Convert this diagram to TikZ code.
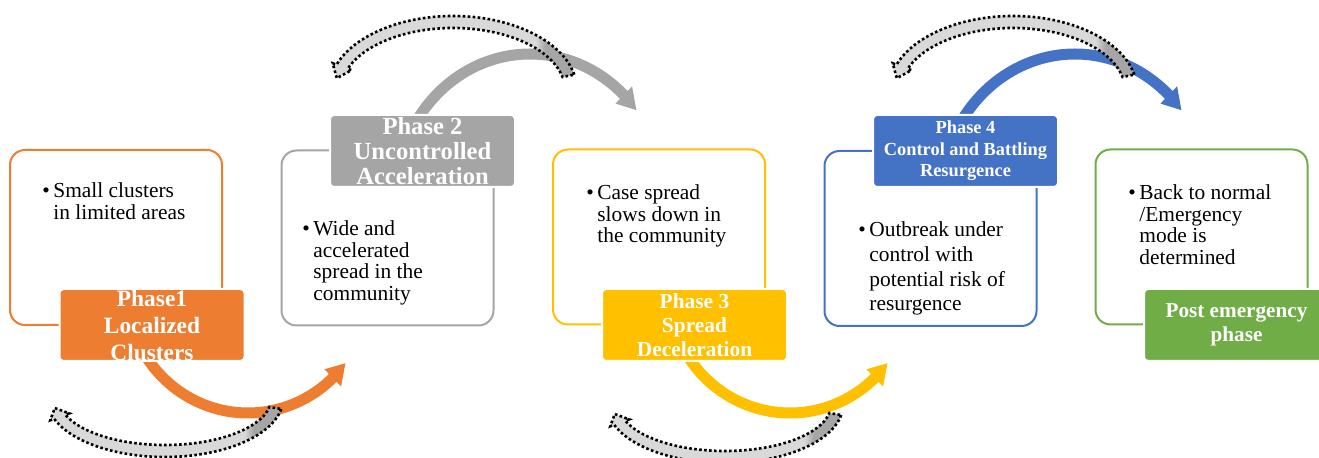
\documentclass[tikz,border=0pt]{standalone}
\usepackage{fontspec}
\setmainfont{Liberation Serif}
\usetikzlibrary{positioning}
\definecolor{phaseorange}{HTML}{ED7D31}
\definecolor{phasegray}{HTML}{A5A5A5}
\definecolor{phaseyellow}{HTML}{FFC000}
\definecolor{phaseblue}{HTML}{4472C4}
\definecolor{phasegreen}{HTML}{70AD47}
\definecolor{dotlight}{HTML}{D9D9D9}
\definecolor{dotdark}{HTML}{A6A6A6}
\pgfdeclarehorizontalshading{dotshade}{100bp}{color(0bp)=(dotlight); color(67bp)=(dotlight); color(69bp)=(dotdark); color(100bp)=(dotdark)}
\newcommand{\bul}{\makebox[5.5pt][l]{\textbullet}}
% #1 style, #2 centre, #3/#4 radii, #5 tail, #6 neck, #7 tip angle, #8 half width, #9 head half width
\newcommand{\bentarrow}[9]{%
  \pgfmathsetmacro{\rxo}{#3+#8}\pgfmathsetmacro{\ryo}{#4+#8}%
  \pgfmathsetmacro{\rxi}{#3-#8}\pgfmathsetmacro{\ryi}{#4-#8}%
  \pgfmathsetmacro{\rxb}{#3+#9}\pgfmathsetmacro{\ryb}{#4+#9}%
  \pgfmathsetmacro{\rxc}{#3-#9}\pgfmathsetmacro{\ryc}{#4-#9}%
  \path[#1, shift={#2}]
    ({\rxo*cos(#5)},{\ryo*sin(#5)}) arc[start angle=#5, end angle=#6, x radius=\rxo, y radius=\ryo]
    -- ({\rxb*cos(#6)},{\ryb*sin(#6)})
    -- ({#3*cos(#7)},{#4*sin(#7)})
    -- ({\rxc*cos(#6)},{\ryc*sin(#6)})
    -- ({\rxi*cos(#6)},{\ryi*sin(#6)})
    arc[start angle=#6, end angle=#5, x radius=\rxi, y radius=\ryi]
    -- cycle;}

\begin{document}
\begin{tikzpicture}[
    x=0.5pt, y=-0.5pt,
    phasebox/.style={draw=#1, line width=1pt, rounded corners=7.5pt,
        minimum width=106pt, minimum height=87.5pt, inner sep=0pt},
    phaselabel/.style={fill=#1, draw=white, line width=1pt, rounded corners=2pt,
        text=white, align=center, inner sep=0pt, minimum width=92.5pt, minimum height=36pt},
    note/.style={anchor=base west, inner sep=0pt, font=\fontsize{10.7}{10.7}\selectfont},
    flowarrow/.style={fill=#1},
    backarrow/.style={shading=dotshade, draw=black, line width=1.3pt, dash pattern=on 1.3pt off 1.2pt}]
\useasboundingbox (0,0) rectangle (1319,458);

% outline boxes
\node[phasebox=phaseorange] (box1) at (116,237.5) {};
\node[phasebox=phasegray]   (box2) at (387.5,238) {};
\node[phasebox=phaseyellow] (box3) at (659,237) {};
\node[phasebox=phaseblue]   (box4) at (930.5,238.5) {};
\node[phasebox=phasegreen]  (box5) at (1201.5,237) {};

% flow arrows
\bentarrow{flowarrow=phaseorange}{(248,288)}{122}{125}{150}{46}{37}{5.5}{12}
\bentarrow{flowarrow=phasegray}{(530,200)}{135}{146}{-150}{-46}{-38}{5.5}{12}
\bentarrow{flowarrow=phaseyellow}{(790,288)}{122}{125}{150}{46}{37}{5.5}{12}
\bentarrow{flowarrow=phaseblue}{(1075,200)}{135}{146}{-150}{-46}{-38}{5.5}{12}

% phase labels
\node[phaselabel=phaseorange, font=\fontsize{11.7}{13.5}\selectfont\bfseries] (lab1) at (152,325)
    {\raisebox{-4.5pt}[0pt][0pt]{\begin{tabular}{@{}c@{}}Phase1\\Localized\\Clusters\end{tabular}}};
\node[phaselabel=phasegray, font=\fontsize{12.3}{12.3}\selectfont\bfseries] (lab2) at (422.5,151)
    {Phase 2\\Uncontrolled\\Acceleration};
\node[phaselabel=phaseyellow, font=\fontsize{10.7}{12}\selectfont\bfseries] (lab3) at (694.5,325)
    {Phase 3\\Spread\\Deceleration};
\node[phaselabel=phaseblue, font=\fontsize{9.2}{10.75}\selectfont\bfseries] (lab4) at (965.5,151)
    {Phase 4\\Control and Battling\\Resurgence};
\node[phaselabel=phasegreen, font=\fontsize{10.6}{12}\selectfont\bfseries] (lab5) at (1236.5,325)
    {Post emergency\\phase};

% bullet notes
\node[note] (note1) at (42,198) {\begin{tabular}[t]{@{}l@{}l@{}}\bul & Small clusters\\ & in limited areas\end{tabular}};
\node[note] (note2) at (302,236) {\begin{tabular}[t]{@{}l@{}l@{}}\bul & Wide and\\ & accelerated\\ & spread in the\\ & community\end{tabular}};
\node[note] (note3) at (586,200) {\begin{tabular}[t]{@{}l@{}l@{}}\bul & Case spread\\ & slows down in\\ & the community\end{tabular}};
\node[note, font=\fontsize{10.7}{12.3}\selectfont] (note4) at (858,237) {\begin{tabular}[t]{@{}l@{}l@{}}\bul & Outbreak under\\ & control with\\ & potential risk of\\ & resurgence\end{tabular}};
\node[note] (note5) at (1128,200) {\begin{tabular}[t]{@{}l@{}l@{}}\bul & Back to normal\\ & /Emergency\\ & mode is\\ & determined\end{tabular}};

% dotted back arrows
\bentarrow{backarrow}{(453,90)}{118}{68}{-12}{-160}{-170}{6}{10}
\bentarrow{backarrow}{(1013,90)}{118}{68}{-12}{-160}{-170}{6}{10}
\bentarrow{backarrow}{(165,399)}{112}{52}{10}{160}{170}{6}{10}
\bentarrow{backarrow}{(725,405)}{112}{52}{10}{160}{170}{6}{10}
\end{tikzpicture}
\end{document}
